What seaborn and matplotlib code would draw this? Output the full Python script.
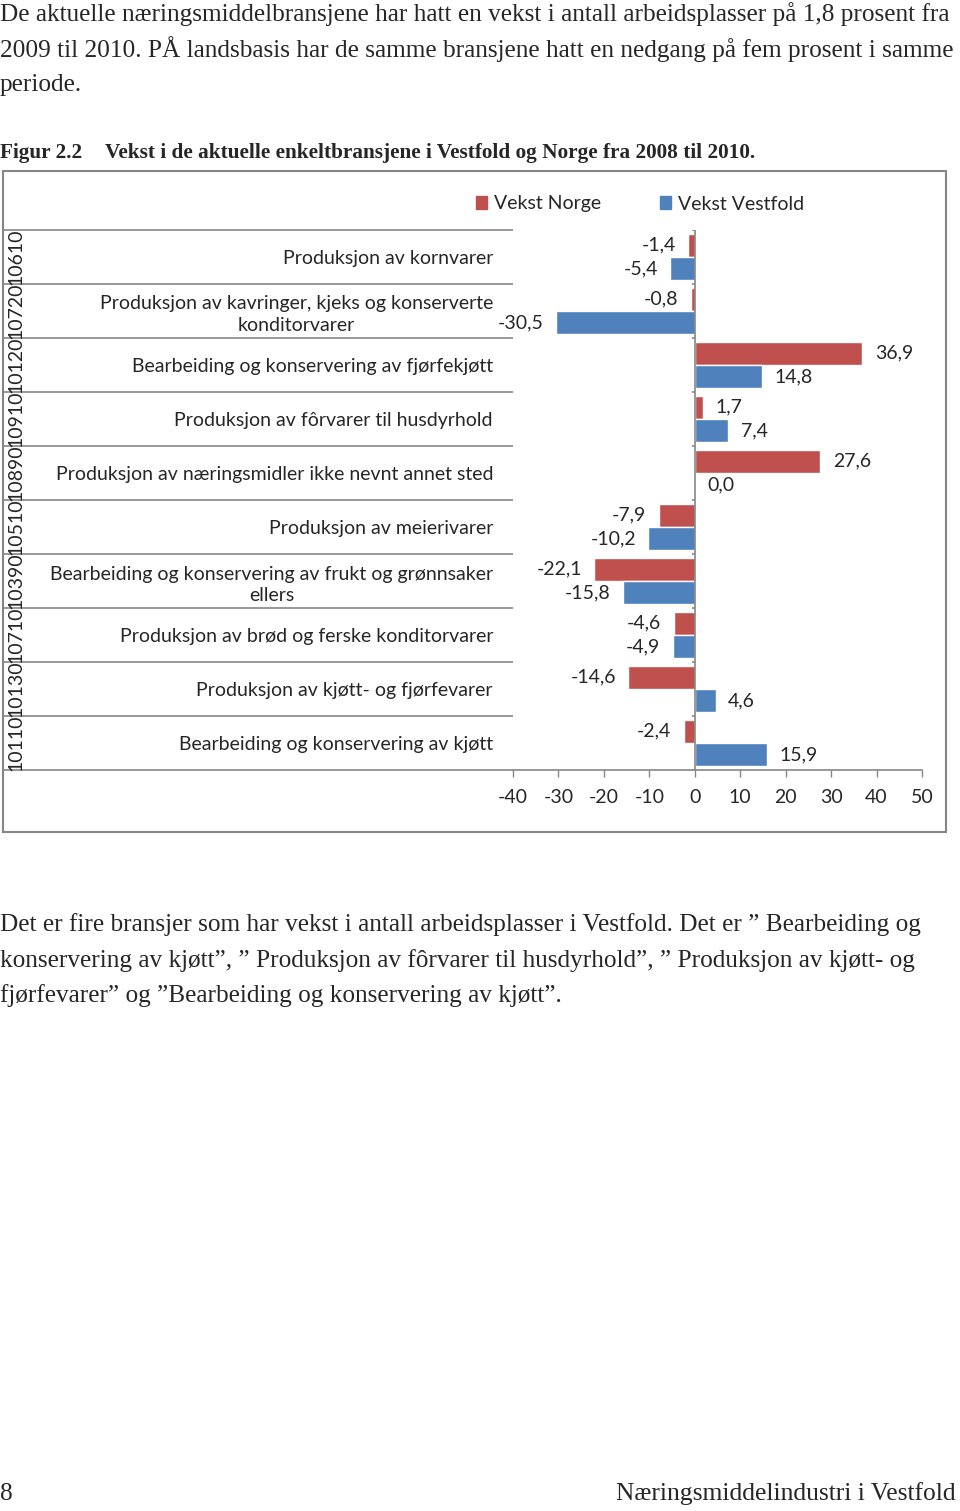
import matplotlib
matplotlib.use("Agg")
import matplotlib.pyplot as plt
import matplotlib.patches as mpatches
import pandas as pd
import seaborn as sns

# data
koder = ["10610", "10720", "10120", "10910", "10890", "10510", "10390", "10710", "10130", "10110"]
bransjer = [
    "Produksjon av kornvarer",
    "Produksjon av kavringer, kjeks og konserverte\nkonditorvarer",
    "Bearbeiding og konservering av fjørfekjøtt",
    "Produksjon av fôrvarer til husdyrhold",
    "Produksjon av næringsmidler ikke nevnt annet sted",
    "Produksjon av meierivarer",
    "Bearbeiding og konservering av frukt og grønnsaker\nellers",
    "Produksjon av brød og ferske konditorvarer",
    "Produksjon av kjøtt- og fjørfevarer",
    "Bearbeiding og konservering av kjøtt",
]
vekst_norge = [-1.4, -0.8, 36.9, 1.7, 27.6, -7.9, -22.1, -4.6, -14.6, -2.4]
vekst_vestfold = [-5.4, -30.5, 14.8, 7.4, 0.0, -10.2, -15.8, -4.9, 4.6, 15.9]
serier = ["Vekst Norge", "Vekst Vestfold"]
farger = ["#C0504D", "#4F81BD"]
x_ticks = [-40, -30, -20, -10, 0, 10, 20, 30, 40, 50]

df = pd.DataFrame({
    "bransje": bransjer * 2,
    "vekst": vekst_norge + vekst_vestfold,
    "serie": [serier[0]] * len(bransjer) + [serier[1]] * len(bransjer),
})

sns.set_style("white")
plt.rcParams["font.family"] = ["Lato", "DejaVu Sans"]
grey = "#868686"
fs = 14
serif = ["Liberation Serif", "DejaVu Serif"]

W, H = 960, 1511
fig = plt.figure(figsize=(W / 100, H / 100), dpi=100)

def fx(px):
    return px / W

def fy(py):
    return 1 - py / H

# page text above
top_lines = [
    "De aktuelle næringsmiddelbransjene har hatt en vekst i antall arbeidsplasser på 1,8 prosent fra",
    "2009 til 2010. PÅ landsbasis har de samme bransjene hatt en nedgang på fem prosent i samme",
    "periode.",
]
for i, line in enumerate(top_lines):
    fig.text(fx(0), fy(14 + i * 35.5), line, family=serif, fontsize=18.15, va="center", ha="left")

fig.text(fx(0), fy(153), "Figur 2.2", family=serif, fontsize=15.3, weight="bold", va="center")
fig.text(fx(105), fy(153), "Vekst i de aktuelle enkeltbransjene i Vestfold og Norge fra 2008 til 2010.",
         family=serif, fontsize=15.3, weight="bold", va="center")

bottom_lines = [
    "Det er fire bransjer som har vekst i antall arbeidsplasser i Vestfold. Det er ” Bearbeiding og",
    "konservering av kjøtt”, ” Produksjon av fôrvarer til husdyrhold”, ” Produksjon av kjøtt- og",
    "fjørfevarer” og ”Bearbeiding og konservering av kjøtt”.",
]
for i, line in enumerate(bottom_lines):
    fig.text(fx(0), fy(925 + i * 35.5), line, family=serif, fontsize=18.2, va="center", ha="left")

fig.text(fx(0), fy(1494), "8", family=serif, fontsize=18.4, va="center")
fig.text(fx(956), fy(1494), "Næringsmiddelindustri i Vestfold", family=serif, fontsize=18.4,
         va="center", ha="right")

# chart frame
fig.add_artist(mpatches.Rectangle((fx(3), fy(832)), fx(946) - fx(3), fy(171) - fy(832),
                                  transform=fig.transFigure, fill=False, edgecolor=grey, lw=1.5))

ax = fig.add_axes([fx(513), fy(770), fx(922) - fx(513), fy(230) - fy(770)])
sns.barplot(data=df, y="bransje", x="vekst", hue="serie", order=bransjer, hue_order=serier,
            palette=farger, orient="h", width=0.87, saturation=1, legend=False, ax=ax)

ax.set_xlim(x_ticks[0], x_ticks[-1])
ax.set_ylim(len(bransjer) - 0.5, -0.5)
ax.set_xticks(x_ticks)
ax.set_xticklabels([str(t) for t in x_ticks], fontsize=fs)
ax.set_yticks(range(len(bransjer)))
ax.set_yticklabels(bransjer, fontsize=fs, ma="center", linespacing=1.35)
ax.tick_params(axis="y", length=0, pad=14.4)
ax.tick_params(axis="x", direction="out", length=5, width=1, color=grey, pad=9, bottom=True)
ax.set_xlabel("")
ax.set_ylabel("")
for side in ["top", "right", "left"]:
    ax.spines[side].set_visible(False)
ax.spines["bottom"].set_color(grey)
ax.spines["bottom"].set_linewidth(1.2)

# zero axis with small ticks at category boundaries
ax.axvline(0, color=grey, lw=1.2, zorder=1)
grenser = [i - 0.5 for i in range(len(bransjer) + 1)]
ax.hlines(grenser, -0.7, 0, color=grey, lw=1.2, zorder=1)

# separator lines of the category labels (extend left of the axes)
ax.hlines(grenser, -1.247, 0, transform=ax.get_yaxis_transform(), color=grey, lw=1.2, clip_on=False)

# code column
for i, kode in enumerate(koder):
    ax.text(-1.2145, i, kode, transform=ax.get_yaxis_transform(), rotation=90,
            ha="center", va="center", fontsize=fs)

# value labels
for cont in ax.containers:
    vals = cont.datavalues
    ax.bar_label(cont, labels=[f"{v:.1f}".replace(".", ",") for v in vals], padding=9, fontsize=fs)

handles = [mpatches.Patch(color=c, label=s) for c, s in zip(farger, serier)]
fig.legend(handles=handles, loc="center", bbox_to_anchor=(fx(640), fy(204)), ncol=2, frameon=False,
           fontsize=fs, handlelength=0.6, handleheight=0.6, handletextpad=0.35, columnspacing=3.0)

fig.savefig("out.png", dpi=100)
